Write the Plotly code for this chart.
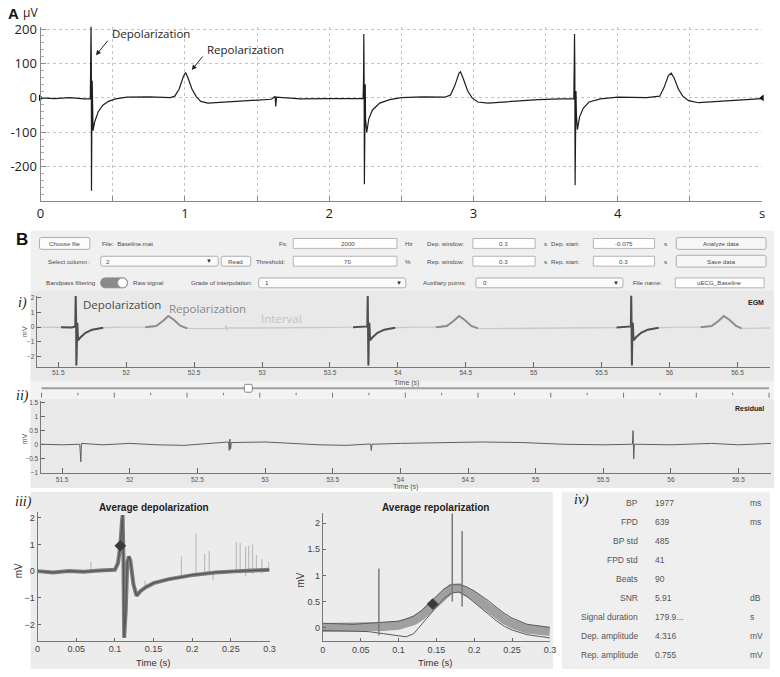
import plotly.graph_objects as go

W, H = 780, 677

# ---------------- data ----------------
# A: raw trace, time in s, signal in uV
a_t = [0.0, 0.10, 0.20, 0.30, 0.345, 0.348, 0.350, 0.352, 0.353, 0.355, 0.358, 0.360, 0.364,
       0.375, 0.40, 0.43, 0.47, 0.52, 0.60, 0.75, 0.90, 0.93, 0.96, 0.99, 1.005, 1.02, 1.05,
       1.08, 1.11, 1.16, 1.25, 1.40, 1.60, 1.625, 1.63, 1.635, 1.80, 2.00, 2.20, 2.235, 2.238,
       2.240, 2.242, 2.244, 2.247, 2.250, 2.252, 2.26, 2.275, 2.30, 2.35, 2.42, 2.50, 2.65,
       2.80, 2.84, 2.87, 2.90, 2.91, 2.93, 2.96, 2.99, 3.03, 3.10, 3.25, 3.45, 3.60, 3.695,
       3.698, 3.700, 3.702, 3.704, 3.707, 3.710, 3.713, 3.72, 3.735, 3.76, 3.80, 3.88, 4.00,
       4.20, 4.29, 4.32, 4.35, 4.37, 4.39, 4.42, 4.45, 4.49, 4.56, 4.70, 4.85, 5.00]
a_v = [0, -2, 1, -3, -2, 60, 210, 100, -270, -120, 50, -60, -95,
       -70, -40, -22, -10, -3, 2, 3, 1, 5, 25, 62, 74, 60, 25,
       3, -10, -15, -13, -8, -4, 5, -25, 2, -3, -2, -1, -2, 50,
       186, 60, -251, -110, 40, -60, -100, -60, -35, -15, -5, 1, 3,
       2, 8, 35, 72, 76, 55, 20, 0, -12, -15, -10, -5, -3, -2,
       100, 186, 90, -254, -80, 20, -50, -92, -55, -30, -12, -3, 2,
       1, 5, 30, 65, 72, 58, 25, 5, -8, -14, -10, -6, -2]

# i: EGM trace (s, mV)
egm_t = [51.34, 51.45, 51.52, 51.60, 51.625, 51.628, 51.631, 51.633, 51.636, 51.640, 51.645,
         51.66, 51.70, 51.75, 51.83, 51.95, 52.14, 52.22, 52.27, 52.31, 52.35, 52.40, 52.45,
         52.53, 52.73, 52.735, 52.74, 52.745, 53.00, 53.40, 53.67, 53.775, 53.778, 53.781,
         53.783, 53.786, 53.790, 53.795, 53.81, 53.85, 53.90, 53.98, 54.10, 54.28, 54.36,
         54.41, 54.45, 54.49, 54.54, 54.59, 54.70, 55.20, 55.61, 55.715, 55.718, 55.721,
         55.723, 55.726, 55.730, 55.735, 55.75, 55.79, 55.84, 55.92, 56.05, 56.23, 56.31,
         56.36, 56.40, 56.44, 56.49, 56.53, 56.74]
egm_v = [0.0, -0.01, 0.0, -0.02, 0.05, 2.1, 0.6, -2.6, -0.5, 0.3, -0.9,
         -0.72, -0.38, -0.17, -0.04, 0.0, 0.0, 0.08, 0.42, 0.76, 0.5, 0.08, -0.08,
         -0.1, -0.09, 0.1, -0.22, -0.06, -0.06, -0.03, 0.0, 0.05, 2.1, 0.6,
         -2.6, -0.5, 0.3, -0.9, -0.72, -0.38, -0.17, -0.04, 0.0, 0.0, 0.08,
         0.42, 0.76, 0.5, 0.08, -0.08, -0.1, -0.06, -0.02, 0.05, 2.2, 0.6,
         -2.6, -0.5, 0.3, -0.9, -0.72, -0.38, -0.17, -0.04, 0.0, 0.0, 0.08,
         0.42, 0.76, 0.5, 0.08, -0.08, -0.06]
dep_windows = [(51.52, 51.83), (53.67, 53.98), (55.61, 55.92)]
rep_windows = [(52.14, 52.45), (54.28, 54.59), (56.23, 56.53)]

# ii: residual (s, mV)
res_t = [51.34, 51.5, 51.63, 51.638, 51.642, 51.8, 52.0, 52.2, 52.4, 52.6, 52.73, 52.735,
         52.74, 52.745, 52.75, 53.0, 53.2, 53.4, 53.6, 53.78, 53.785, 53.79, 54.0, 54.3,
         54.6, 54.9, 55.2, 55.5, 55.715, 55.72, 55.725, 55.73, 56.0, 56.3, 56.5, 56.74]
res_v = [0.02, 0.0, 0.02, -0.6, 0.05, 0.0, 0.05, 0.0, -0.02, 0.05, 0.1, -0.2,
         0.2, -0.15, 0.08, 0.1, 0.05, 0.0, -0.02, 0.03, -0.2, 0.02, 0.05, 0.08,
         0.1, 0.08, 0.02, 0.0, 0.02, 0.5, -0.5, 0.02, 0.0, 0.05, 0.0, 0.05]

# iii: average depolarization (s, mV)
dep_t = [0.0, 0.02, 0.04, 0.06, 0.08, 0.10, 0.104, 0.107, 0.109, 0.110, 0.111, 0.112, 0.114,
         0.116, 0.118, 0.120, 0.124, 0.128, 0.133, 0.14, 0.15, 0.17, 0.20, 0.23, 0.26, 0.30]
dep_v = [0.0, -0.05, 0.0, -0.02, 0.02, 0.05, 0.3, 0.95, 1.8, 2.1, 0.5, -2.5, -1.5,
         0.3, 0.55, 0.4, -0.5, -0.92, -0.75, -0.6, -0.45, -0.3, -0.15, -0.05, 0.0, 0.05]
dep_mark = (0.107, 0.95)
dep_spk_t = [0.069, 0.139, 0.186, 0.205, 0.216, 0.222, 0.227, 0.257, 0.262, 0.269, 0.273, 0.278, 0.283, 0.29, 0.299]
dep_spk_lo = [0.0, -0.6, -0.25, -0.2, -0.15, -0.12, -0.35, -0.05, -0.1, -0.2, -0.05, -0.1, 0.0, -0.1, 0.0]
dep_spk_hi = [0.35, -0.35, 0.55, 1.4, 0.65, 0.75, 0.0, 1.1, 1.05, 0.9, 0.95, 1.0, 0.6, 0.45, 0.35]

# iii: average repolarization (s, mV)
rep_t = [0.0, 0.02, 0.04, 0.06, 0.08, 0.10, 0.11, 0.12, 0.13, 0.14, 0.15, 0.16, 0.17, 0.18,
         0.19, 0.20, 0.21, 0.22, 0.23, 0.24, 0.25, 0.27, 0.30]
rep_v = [0.0, 0.0, -0.02, 0.0, 0.02, 0.04, 0.07, 0.13, 0.22, 0.35, 0.5, 0.65, 0.75, 0.76,
         0.7, 0.6, 0.48, 0.36, 0.25, 0.15, 0.07, -0.03, -0.08]
rep_hi = [0.08, 0.07, 0.06, 0.08, 0.1, 0.12, 0.16, 0.22, 0.32, 0.45, 0.6, 0.74, 0.82, 0.82,
          0.78, 0.7, 0.6, 0.5, 0.38, 0.27, 0.18, 0.06, 0.0]
rep_lo = [-0.06, -0.07, -0.08, -0.08, -0.12, -0.16, -0.18, -0.12, 0.05, 0.22, 0.4, 0.56, 0.66,
          0.68, 0.6, 0.48, 0.36, 0.24, 0.12, 0.02, -0.05, -0.14, -0.2]
rep_mark = (0.145, 0.45)
rep_spk_t = [0.074, 0.171, 0.184]
rep_spk_lo = [-0.15, 0.5, 0.4]
rep_spk_hi = [1.13, 2.3, 1.85]

# iv: summary values
stat_names = ["BP", "FPD", "BP std", "FPD std", "Beats", "SNR", "Signal duration",
              "Dep. amplitude", "Rep. amplitude"]
stat_values = ["1977", "639", "485", "41", "90", "5.91", "179.9...", "4.316", "0.755"]
stat_units = ["ms", "ms", "", "", "", "dB", "s", "mV", "mV"]


# ---------------- helpers ----------------
def px(x):
    return x / W


def py(y):
    return 1 - y / H


GUI_FONT = "Liberation Sans"
shapes = []
annos = []


def rect(x0, y0, x1, y1, fill, line=None, layer="below"):
    shapes.append(dict(type="rect", xref="paper", yref="paper", x0=px(x0), x1=px(x1),
                       y0=py(y1), y1=py(y0), fillcolor=fill, layer=layer,
                       line=dict(width=1 if line else 0, color=line or fill)))


def rrect(x0, y0, x1, y1, r, fill, line):
    # rounded rectangle as a path in paper units
    rx, ry = r / W, r / H
    a, b, c, d = px(x0), px(x1), py(y1), py(y0)
    p = (f"M{a+rx},{c} L{b-rx},{c} Q{b},{c} {b},{c+ry} L{b},{d-ry} Q{b},{d} {b-rx},{d} "
         f"L{a+rx},{d} Q{a},{d} {a},{d-ry} L{a},{c+ry} Q{a},{c} {a+rx},{c} Z")
    shapes.append(dict(type="path", xref="paper", yref="paper", path=p, fillcolor=fill,
                       line=dict(width=1, color=line), layer="above"))


def text(x, y, s, anchor="left", size=6.2, color="#4a4a4a", family=GUI_FONT, angle=0):
    annos.append(dict(xref="paper", yref="paper", x=px(x), y=py(y), text=s, showarrow=False,
                      xanchor=anchor, yanchor="middle", textangle=angle,
                      font=dict(family=family, size=size, color=color)))


# ---------------- background panels ----------------
rect(27, 227, 780, 488, "#f0f0f0")
rect(27, 288, 780, 380, "#e9e9e9")
rect(27, 398, 780, 488, "#e9e9e9")
rect(27, 492, 556, 672, "#ececec")
rect(565, 492, 776, 672, "#efefef")

# ---------------- GUI controls (panel B) ----------------
text(10, 236, "<b>B</b>", size=17, color="#111", family="Liberation Sans")
# row 1
rrect(36, 234, 87, 246, 2, "#fbfbfb", "#adadad")
text(61.5, 240, "Choose file", "center")
text(97, 240, "File:  Baseline.mat")
text(290, 240, "Fs:", "right")
rect(293, 235, 398, 245, "white", "#b5b5b5", "above")
text(348, 240, "2000", "center")
text(404, 240, "Hz")
text(468, 240, "Dep. window:", "right")
rect(475, 235, 538, 245, "white", "#b5b5b5", "above")
text(506, 240, "0.3", "center")
text(545, 240, "s")
text(585, 240, "Dep. start:", "right")
rect(597, 235, 659, 245, "white", "#b5b5b5", "above")
text(628, 240, "-0.075", "center")
text(667, 240, "s")
rrect(681, 234, 772, 246, 2, "#f6f6f6", "#adadad")
text(726.5, 240, "Analyze data", "center")
# row 2
text(90, 258, "Select column :", "right")
rrect(98, 253, 217, 263, 2, "#fbfbfb", "#adadad")
text(101, 258, "2")
text(208, 258, "▼", "center", size=6, color="#333")
rrect(220, 253, 250, 263, 2, "#fbfbfb", "#adadad")
text(235, 258, "Read", "center")
text(288, 258, "Threshold:", "right")
rect(293, 253, 398, 263, "white", "#b5b5b5", "above")
text(348, 258, "70", "center")
text(404, 258, "%")
text(468, 258, "Rep. window:", "right")
rect(475, 253, 538, 263, "white", "#b5b5b5", "above")
text(506, 258, "0.3", "center")
text(545, 258, "s")
text(585, 258, "Rep. start:", "right")
rect(597, 253, 659, 263, "white", "#b5b5b5", "above")
text(628, 258, "0.3", "center")
text(667, 258, "s")
rrect(681, 252, 772, 264, 2, "#f6f6f6", "#adadad")
text(726.5, 258, "Save data", "center")
# row 3
text(95, 280, "Bandpass filtering", "right")
rrect(98, 275, 125, 285, 5, "#8a8a8a", "#8a8a8a")
shapes.append(dict(type="circle", xref="paper", yref="paper", x0=px(115), x1=px(125),
                   y0=py(285), y1=py(275), fillcolor="white", line=dict(color="#999", width=1),
                   layer="above"))
text(129, 280, "Raw signal")
text(254, 280, "Grade of interpolation:", "right")
rrect(258, 275, 407, 285, 2, "#fbfbfb", "#adadad")
text(262, 280, "1")
text(400, 280, "▼", "center", size=6, color="#333")
text(471, 280, "Auxiliary points:", "right")
rrect(478, 275, 627, 285, 2, "#fbfbfb", "#adadad")
text(483, 280, "0")
text(620, 280, "▼", "center", size=6, color="#333")
text(669, 280, "File name:", "right")
rect(680, 275, 770, 285, "white", "#b5b5b5", "above")
text(725, 280, "uECG_Baseline", "center")

# slider between i) and ii)
rect(27, 380, 780, 398, "#f3f3f3")
shapes.append(dict(type="line", xref="paper", yref="paper", x0=px(38), x1=px(775),
                   y0=py(387), y1=py(387), line=dict(color="#a0a0a0", width=2)))
for k in range(21):
    xk = 38 + k * (775 - 38) / 20
    tl = 5 if k % 2 == 0 else 2.5
    shapes.append(dict(type="line", xref="paper", yref="paper", x0=px(xk), x1=px(xk),
                       y0=py(391.5), y1=py(391.5 + tl), line=dict(color="#777", width=1)))
rrect(243.5, 383, 251.5, 391, 1.5, "white", "#888")

# panel labels
text(12, 300, "<i>i)</i>", size=14, color="#222", family="Liberation Serif")
text(10, 395, "<i>ii)</i>", size=14, color="#222", family="Liberation Serif")
text(9, 502, "<i>iii)</i>", size=14, color="#222", family="Liberation Serif")
text(575, 500, "<i>iv)</i>", size=14, color="#222", family="Liberation Serif")

# ---------------- traces ----------------
fig = go.Figure()

# A
fig.add_trace(go.Scatter(x=a_t, y=a_v, mode="lines", line=dict(color="#1e1e1e", width=1.2),
                         xaxis="x", yaxis="y", showlegend=False))
fig.add_trace(go.Scatter(x=[0, 5], y=[0, 0], mode="markers", xaxis="x", yaxis="y",
                         marker=dict(symbol=["triangle-right", "triangle-left"], size=6,
                                     color="#111"), showlegend=False, cliponaxis=False))


def window_pieces(t, v, windows):
    xs, ys = [], []
    for lo, hi in windows:
        for ti, vi in zip(t, v):
            if lo <= ti <= hi:
                xs.append(ti)
                ys.append(vi)
        xs.append(None)
        ys.append(None)
    return xs, ys


# i) EGM
fig.add_trace(go.Scatter(x=egm_t, y=egm_v, mode="lines", line=dict(color="#c9c9c9", width=1.4),
                         xaxis="x2", yaxis="y2", showlegend=False))
dx, dy = window_pieces(egm_t, egm_v, dep_windows)
fig.add_trace(go.Scatter(x=dx, y=dy, mode="lines", line=dict(color="#4f4f4f", width=2),
                         xaxis="x2", yaxis="y2", showlegend=False))
rx_, ry_ = window_pieces(egm_t, egm_v, rep_windows)
fig.add_trace(go.Scatter(x=rx_, y=ry_, mode="lines", line=dict(color="#8d8d8d", width=2),
                         xaxis="x2", yaxis="y2", showlegend=False))

# ii) residual
fig.add_trace(go.Scatter(x=res_t, y=res_v, mode="lines", line=dict(color="#5e5e5e", width=1),
                         xaxis="x3", yaxis="y3", showlegend=False))


def spikes(ts, lo, hi):
    xs, ys = [], []
    for t, a, b in zip(ts, lo, hi):
        xs += [t, t, None]
        ys += [a, b, None]
    return xs, ys


# iii) depolarization
sx, sy = spikes(dep_spk_t, dep_spk_lo, dep_spk_hi)
fig.add_trace(go.Scatter(x=sx, y=sy, mode="lines", line=dict(color="#bdbdbd", width=1.2),
                         xaxis="x4", yaxis="y4", showlegend=False))
fig.add_trace(go.Scatter(x=dep_t, y=dep_v, mode="lines", line=dict(color="#7d7d7d", width=4),
                         xaxis="x4", yaxis="y4", showlegend=False))
fig.add_trace(go.Scatter(x=dep_t, y=dep_v, mode="lines", line=dict(color="#555", width=1.2),
                         xaxis="x4", yaxis="y4", showlegend=False))
fig.add_trace(go.Scatter(x=[dep_mark[0]], y=[dep_mark[1]], mode="markers",
                         marker=dict(symbol="diamond", size=9, color="#3a3a3a"),
                         xaxis="x4", yaxis="y4", showlegend=False))

# iii) repolarization
fig.add_trace(go.Scatter(x=rep_t, y=rep_v, mode="lines", line=dict(color="#a0a0a0", width=9),
                         xaxis="x5", yaxis="y5", showlegend=False))
for band in (rep_hi, rep_lo):
    fig.add_trace(go.Scatter(x=rep_t, y=band, mode="lines", line=dict(color="#5a5a5a", width=1),
                             xaxis="x5", yaxis="y5", showlegend=False))
sx, sy = spikes(rep_spk_t, rep_spk_lo, rep_spk_hi)
fig.add_trace(go.Scatter(x=sx, y=sy, mode="lines", line=dict(color="#7a7a7a", width=1.5),
                         xaxis="x5", yaxis="y5", showlegend=False))
fig.add_trace(go.Scatter(x=[rep_mark[0]], y=[rep_mark[1]], mode="markers",
                         marker=dict(symbol="diamond", size=9, color="#3a3a3a"),
                         xaxis="x5", yaxis="y5", showlegend=False))

# ---------------- axes ----------------
small = dict(family=GUI_FONT, size=6.5, color="#555")
mid = dict(family=GUI_FONT, size=9, color="#444")

layout = dict(
    width=W, height=H, margin=dict(l=0, r=0, t=0, b=0),
    paper_bgcolor="white", plot_bgcolor="white", showlegend=False,
    xaxis=dict(domain=[px(37), px(768)], range=[0, 5], anchor="y",
               tickvals=[0, 0.5, 1, 1.5, 2, 2.5, 3, 3.5, 4, 4.5, 5],
               ticktext=["0", "", "1", "", "2", "", "3", "", "4", "", "s"],
               showgrid=True, gridcolor="#c4c4c4", griddash="dot", zeroline=False,
               showline=True, linecolor="#8a8a8a", ticks="inside", ticklen=5,
               tickcolor="#8a8a8a", tickfont=dict(family="Open Sans", size=13, color="#222")),
    yaxis=dict(domain=[py(197), py(20)], range=[-300, 207], anchor="x",
               tickvals=[-300, -200, -100, 0, 100, 200],
               ticktext=["", "-200", "-100", "0", "100", "200"],
               showgrid=True, gridcolor="#c4c4c4", griddash="dot", zeroline=False,
               showline=True, linecolor="#8a8a8a", ticks="inside", ticklen=5,
               tickcolor="#8a8a8a", minor=dict(ticks="inside", dtick=20, ticklen=3,
                                               tickcolor="#aaa"),
               tickfont=dict(family="Open Sans", size=13, color="#222")),
    xaxis2=dict(domain=[px(33), px(776)], range=[51.34, 56.74], anchor="y2", dtick=0.5,
                tick0=51.5, showgrid=False, zeroline=False, showline=True, linecolor="#777",
                ticks="inside", ticklen=5, tickcolor="#666", tickfont=small),
    yaxis2=dict(domain=[py(365), py(293)], range=[-2.67, 2.13], anchor="x2", dtick=1,
                showgrid=False, zeroline=False, showline=True, linecolor="#777",
                ticks="inside", ticklen=4, tickcolor="#666", tickfont=small),
    xaxis3=dict(domain=[px(37), px(777)], range=[51.34, 56.74], anchor="y3", dtick=0.5,
                tick0=51.5, showgrid=False, zeroline=False, showline=True, linecolor="#777",
                ticks="inside", ticklen=5, tickcolor="#666", tickfont=small),
    yaxis3=dict(domain=[py(473), py(400)], range=[-1, 1.55], anchor="x3", dtick=0.5,
                showgrid=False, zeroline=False, showline=True, linecolor="#777",
                ticks="inside", ticklen=4, tickcolor="#666", tickfont=small),
    xaxis4=dict(domain=[px(34), px(269)], range=[0, 0.3], anchor="y4", dtick=0.05,
                showgrid=False, zeroline=False, showline=True, linecolor="#777",
                ticks="inside", ticklen=3, tickcolor="#666", tickfont=mid),
    yaxis4=dict(domain=[py(643), py(513)], range=[-2.6, 2.2], anchor="x4", dtick=1,
                showgrid=False, zeroline=False, showline=True, linecolor="#777",
                ticks="inside", ticklen=3, tickcolor="#666", tickfont=mid),
    xaxis5=dict(domain=[px(323), px(553)], range=[0, 0.3], anchor="y5", dtick=0.05,
                showgrid=False, zeroline=False, showline=True, linecolor="#777",
                ticks="inside", ticklen=3, tickcolor="#666", tickfont=mid),
    yaxis5=dict(domain=[py(644), py(514)], range=[-0.27, 2.19], anchor="x5", dtick=0.5,
                showgrid=False, zeroline=False, showline=True, linecolor="#777",
                ticks="inside", ticklen=3, tickcolor="#666", tickfont=mid),
)

# ---------------- panel A labels ----------------
text(2, 7, "<b>A</b>", size=15, color="#111", family="Liberation Sans")
text(17, 6, "µV", size=12, color="#222", family="Open Sans")
text(107, 27, "Depolarization", size=11.5, color="#222", family="Open Sans")
text(204, 43, "Repolarization", size=11.5, color="#222", family="Open Sans")
annos.append(dict(xref="x", yref="y", x=0.384, y=124, ax=13, ay=-16, text="", showarrow=True,
                  arrowhead=2, arrowsize=1, arrowwidth=1, arrowcolor="#222", standoff=0))
annos.append(dict(xref="x", yref="y", x=1.048, y=81, ax=12, ay=-15, text="", showarrow=True,
                  arrowhead=2, arrowsize=1, arrowwidth=1, arrowcolor="#222", standoff=0))

# ---------------- panel i / ii labels ----------------
text(78, 302, "Depolarization", size=11.5, color="#4a4a4a", family="Open Sans")
text(165, 306, "Repolarization", size=11.5, color="#888", family="Open Sans")
text(258, 316, "Interval", size=11.5, color="#c2c2c2", family="Open Sans")
text(772, 300, "<b>EGM</b>", "right", size=7, color="#222")
text(772, 408, "<b>Residual</b>", "right", size=7, color="#222")
text(393, 382, "Time (s)", size=7, color="#555")
text(392, 487, "Time (s)", size=7, color="#555")
text(20, 329, "mV", "center", size=7, color="#555", angle=-90)
text(21, 438, "mV", "center", size=7, color="#555", angle=-90)

# ---------------- panel iii labels ----------------
text(152, 508, "<b>Average depolarization</b>", "center", size=10, color="#222")
text(437, 508, "<b>Average repolarization</b>", "center", size=10, color="#222")
text(151, 665, "Time (s)", "center", size=9.5, color="#333")
text(437, 665, "Time (s)", "center", size=9.5, color="#333")
text(15, 572, "mV", "center", size=10, color="#333", angle=-90)
text(300, 582, "mV", "center", size=10, color="#333", angle=-90)

# ---------------- panel iv table ----------------
for k, (n, v, u) in enumerate(zip(stat_names, stat_values, stat_units)):
    yk = 503 + k * 19.4
    text(644, yk, n, "right", size=8.5, color="#555")
    text(657, yk, v, "left", size=8.5, color="#555")
    if u:
        text(754, yk, u, "left", size=8.5, color="#555")

layout["shapes"] = shapes
layout["annotations"] = annos
fig.update_layout(**layout)
fig.write_html("out.html", config={"displayModeBar": False},
               post_script="document.body.style.margin='0px';document.body.style.overflow='hidden';")
